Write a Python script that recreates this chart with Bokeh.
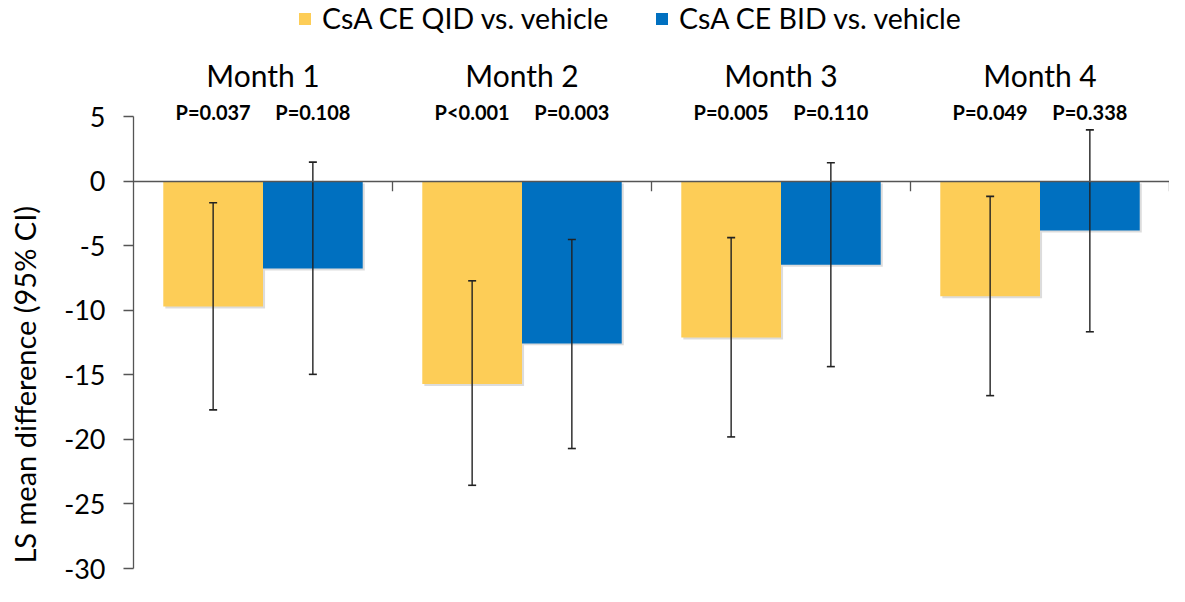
import math
from bokeh.plotting import figure
from bokeh.models import (ColumnDataSource, FactorRange, Span, Legend, LegendItem, FixedTicker,
                          LinearAxis, CustomJSTickFormatter)
from bokeh.transform import dodge
from bokeh.core.properties import value
from bokeh.embed import file_html
from bokeh.resources import INLINE

# ---- data ----
months = ["Month 1", "Month 2", "Month 3", "Month 4"]
series = ["CsA CE QID vs. vehicle", "CsA CE BID vs. vehicle"]
qid = [-9.7, -15.7, -12.1, -8.9]
qid_upper = [-1.65, -7.7, -4.35, -1.15]
qid_lower = [-17.7, -23.55, -19.8, -16.6]
bid = [-6.75, -12.55, -6.45, -3.8]
bid_upper = [1.5, -4.5, 1.45, 4.0]
bid_lower = [-14.95, -20.7, -14.35, -11.65]
p_qid = ["P=0.037", "P<0.001", "P=0.005", "P=0.049"]
p_bid = ["P=0.108", "P=0.003", "P=0.110", "P=0.338"]
y_ticks = [5, 0, -5, -10, -15, -20, -25, -30]
y_title = "LS mean difference (95% CI)"

YELLOW = "#FDCD57"
BLUE = "#0070C0"
AXIS = "#555555"
FONT = "Lato"

SH_Y = 0.15  # shadow offset (style)
src = ColumnDataSource(dict(
    month=months, qid=qid, bid=bid,
    qid_lo=qid_lower, qid_hi=qid_upper, bid_lo=bid_lower, bid_hi=bid_upper,
    p_qid=p_qid, p_bid=p_bid,
    qid_sh=[v - SH_Y for v in qid], bid_sh=[v - SH_Y for v in bid],
))

p = figure(width=1169, height=586, x_range=FactorRange(*months, range_padding=0),
           y_range=(-30, 14.03), output_backend="svg", toolbar_location=None,
           min_border_left=133, min_border_right=0, min_border_top=0, min_border_bottom=18)
p.outline_line_color = None
p.xgrid.visible = False
p.ygrid.visible = False
p.xaxis.visible = False

ax = p.yaxis[0]
ax.ticker = FixedTicker(ticks=y_ticks)
ax.formatter = CustomJSTickFormatter(code="return String(tick)")
ax.bounds = (-30, 5)
ax.major_tick_out = 10
ax.major_tick_in = 0
ax.minor_tick_line_color = None
ax.axis_line_color = AXIS
ax.axis_line_width = 1.3
ax.major_tick_line_color = AXIS
ax.major_tick_line_width = 1.3
ax.major_label_text_font = FONT
ax.major_label_text_font_size = "27px"
ax.major_label_text_color = "#000000"
ax.major_label_standoff = 18

# invisible axis carrying the y title; trailing no-break spaces push the
# (frame-centred) title down to where the reference shows it
tax = LinearAxis(ticker=FixedTicker(ticks=[]), axis_label=y_title + "\u00a0" * 27,
                 axis_line_color=None, major_tick_line_color=None, minor_tick_line_color=None,
                 axis_label_text_font=FONT, axis_label_text_font_size="29px",
                 axis_label_text_font_style="normal", axis_label_text_color="#000000",
                 axis_label_standoff=20)
p.add_layout(tax, "left")

W = 0.385
xq = dodge("month", -W / 2, range=p.x_range)
xb = dodge("month", W / 2, range=p.x_range)
xq_s = dodge("month", -W / 2 + 0.008, range=p.x_range)
xb_s = dodge("month", W / 2 + 0.008, range=p.x_range)

# shadows
p.vbar(x=xq_s, top="qid_sh", bottom=-SH_Y, width=W, source=src, fill_color="#9a9a9a", fill_alpha=0.35, line_color=None)
p.vbar(x=xb_s, top="bid_sh", bottom=-SH_Y, width=W, source=src, fill_color="#9a9a9a", fill_alpha=0.35, line_color=None)

rq = p.vbar(x=xq, top="qid", bottom=0, width=W, source=src, fill_color=YELLOW, line_color=None)
rb = p.vbar(x=xb, top="bid", bottom=0, width=W, source=src, fill_color=BLUE, line_color=None)

# zero line and category boundary ticks
p.add_layout(Span(location=0, dimension="width", line_color=AXIS, line_width=1.3))
xbd = dodge("month", 0.5, range=p.x_range)
p.segment(x0=xbd, y0=0, x1=xbd, y1=-0.75, source=src, line_color=AXIS, line_width=1.3)

# error bars
EB = "#222222"
for x, lo, hi in ((xq, "qid_lo", "qid_hi"), (xb, "bid_lo", "bid_hi")):
    p.segment(x0=x, y0=lo, x1=x, y1=hi, source=src, line_color=EB, line_width=1.4)
    p.scatter(x=x, y=lo, marker="dash", size=8, source=src, line_color=EB, line_width=1.6)
    p.scatter(x=x, y=hi, marker="dash", size=8, source=src, line_color=EB, line_width=1.6)

# p-values
for x, col in ((xq, "p_qid"), (xb, "p_bid")):
    p.text(x=x, y=5.35, text=col, source=src, text_font=value(FONT), text_font_style="bold",
           text_font_size="20px", text_align="center", text_baseline="middle", text_color="#000000")

# month labels
p.text(x="month", y=8.22, text="month", source=src, text_font=value(FONT), text_font_size="30px",
       text_align="center", text_baseline="middle", text_color="#000000")

# legend
legend = Legend(items=[LegendItem(label=series[0], renderers=[rq]),
                       LegendItem(label=series[1], renderers=[rb])],
                orientation="horizontal", location=(164, 533),
                glyph_width=15, glyph_height=15, label_standoff=10, label_width=290,
                spacing=42, padding=0, margin=0,
                label_text_font=FONT, label_text_font_size="28.5px", label_text_color="#000000",
                background_fill_alpha=0, border_line_color=None)
p.add_layout(legend)

open("out.html", "w").write(file_html(p, INLINE))
